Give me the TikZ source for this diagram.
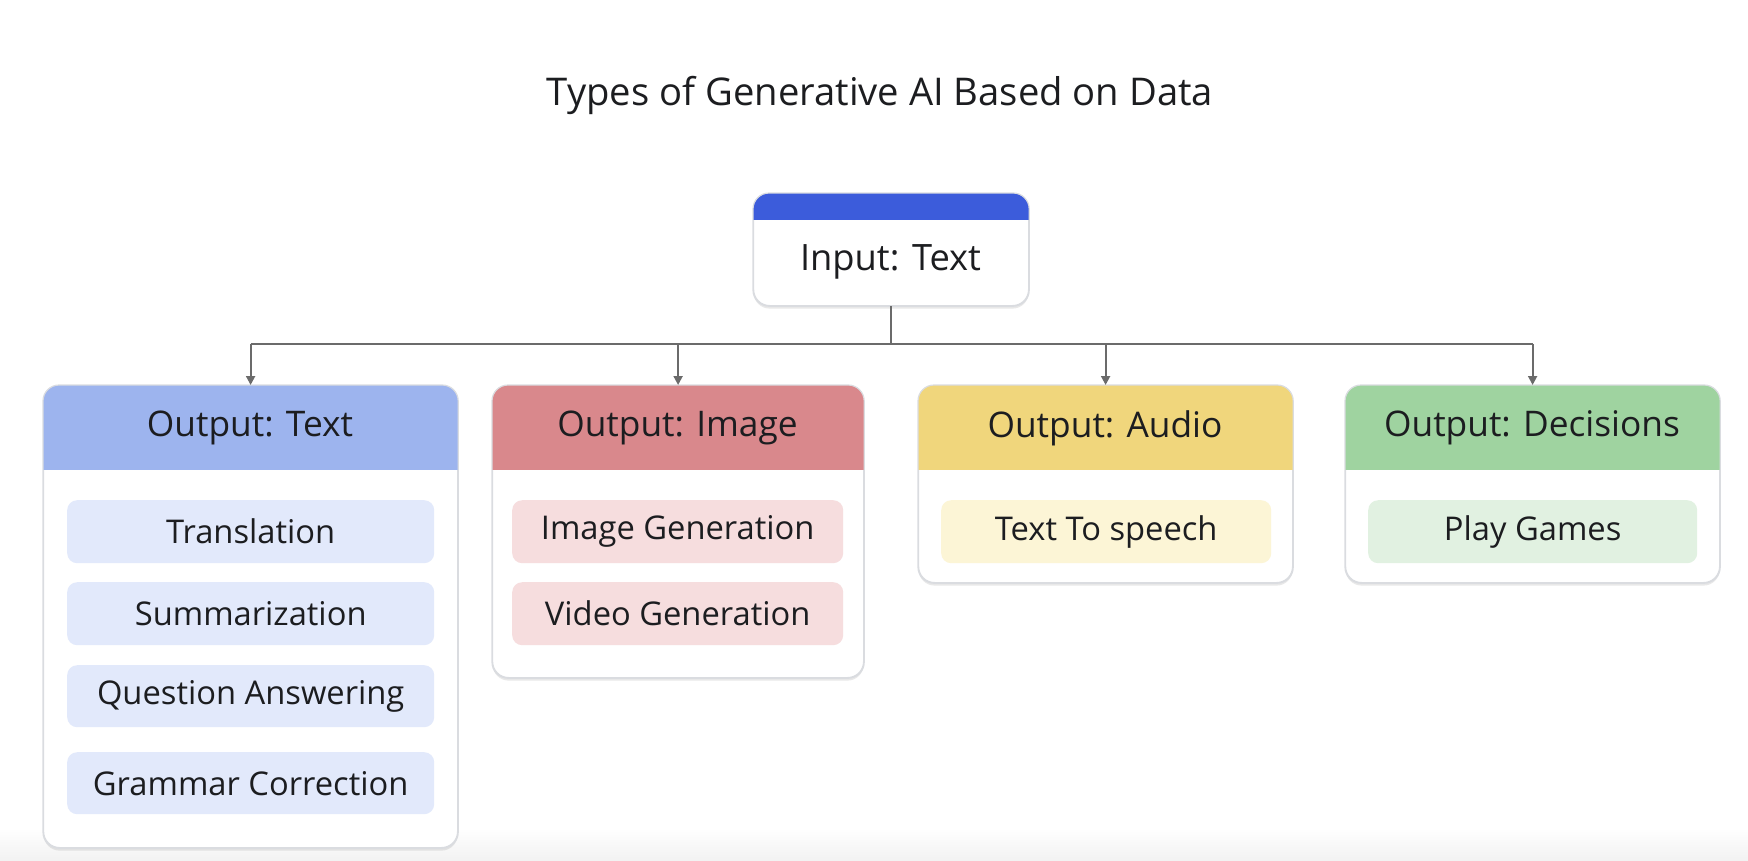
\documentclass[tikz,border=0pt]{standalone}
\usepackage{fontspec}
\setmainfont{Open Sans}
\usetikzlibrary{shadows,arrows.meta}
\definecolor{txt}{HTML}{1C1D20}
\definecolor{hdrin}{HTML}{3C5CDB}
\definecolor{hdrtext}{HTML}{9DB4EE}
\definecolor{hdrimg}{HTML}{D9888C}
\definecolor{hdraud}{HTML}{F0D67C}
\definecolor{hdrdec}{HTML}{9FD3A0}
\definecolor{intext}{HTML}{E2E9FB}
\definecolor{inimg}{HTML}{F6DDDE}
\definecolor{inaud}{HTML}{FCF5D6}
\definecolor{indec}{HTML}{E1F1E1}
\definecolor{conncol}{HTML}{6B6B6B}
\definecolor{bordercol}{HTML}{DADCE0}
\tikzset{
  outerbox/.style={draw=bordercol, line width=1.2pt, fill=white, rounded corners=16pt,
    anchor=north west, inner sep=0pt,
    drop shadow={opacity=0.18, shadow xshift=0pt, shadow yshift=-3pt}},
  borderonly/.style={draw=bordercol, line width=1.2pt, rounded corners=16pt},
  itembox/.style={fill=#1, rounded corners=10pt, anchor=north west, inner sep=0pt,
    text=txt, font=\fontsize{32.7}{39}\selectfont},
  hdrtxt/.style={text=txt, font=\fontsize{35.3}{42}\selectfont, anchor=center},
  conn/.style={draw=conncol, line width=2pt},
  arr/.style={conn, -{Triangle[length=9pt,width=9pt]}}
}
\begin{document}
\begin{tikzpicture}[x=1pt,y=-1pt]
\useasboundingbox (0,0) rectangle (1748,860);
\shade[top color=white, bottom color=black!5] (0,828) rectangle (1748,860);

% title
\node[text=txt, font=\fontsize{38.2}{46}\selectfont] (title) at (880,95) {Types of Generative AI Based on Data};

% input box
\node[outerbox, minimum width=275, minimum height=112] (in) at (753,193) {};
\begin{scope}
  \clip[rounded corners=16pt] (in.north west) rectangle (in.south east);
  \fill[hdrin] (in.north west) rectangle ([yshift=-27pt]in.north east);
\end{scope}
\draw[borderonly] (in.north west) rectangle (in.south east);
\node[text=txt, font=\fontsize{36.3}{43}\selectfont] (inlbl) at (890.5,262) {Input: Text};

% output boxes
\foreach \nm/\x/\w/\h/\col in {ot/43/414/462/hdrtext, oi/492/371/292/hdrimg, oa/918/374/197/hdraud, od/1345/374/197/hdrdec}{
  \node[outerbox, minimum width=\w, minimum height=\h] (\nm) at (\x,385) {};
  \begin{scope}
    \clip[rounded corners=16pt] (\nm.north west) rectangle (\nm.south east);
    \fill[\col] (\nm.north west) rectangle ([yshift=-85pt]\nm.north east);
  \end{scope}
  \draw[borderonly] (\nm.north west) rectangle (\nm.south east);
}
\node[hdrtxt] (otl) at (250,428) {Output: Text};
\node[hdrtxt] (oil) at (677.5,428) {Output: Image};
\node[hdrtxt] (oal) at (1105,428) {Output: Audio};
\node[hdrtxt] (odl) at (1532,428) {Output: Decisions};

% items
\node[itembox=intext, minimum width=367, minimum height=63] (t1) at (67,500) {Translation};
\node[itembox=intext, minimum width=367, minimum height=63] (t2) at (67,582) {Summarization};
\node[itembox=intext, minimum width=367, minimum height=62] (t3) at (67,665) {Question Answering};
\node[itembox=intext, minimum width=367, minimum height=62] (t4) at (67,752) {Grammar Correction};
\node[itembox=inimg, minimum width=331, minimum height=63] (i1) at (512,500) {Image Generation};
\node[itembox=inimg, minimum width=331, minimum height=63] (i2) at (512,582) {Video Generation};
\node[itembox=inaud, minimum width=330, minimum height=63] (a1) at (941,500) {Text To speech};
\node[itembox=indec, minimum width=329, minimum height=63] (d1) at (1368,500) {Play Games};

% connectors
\draw[conn] (in.south) -- ++(0,38) coordinate (j);
\draw[conn] (ot.north |- j) -- (od.north |- j);
\foreach \nm in {ot,oi,oa,od}{
  \draw[arr] (\nm.north |- j) -- (\nm.north);
}
\end{tikzpicture}
\end{document}
